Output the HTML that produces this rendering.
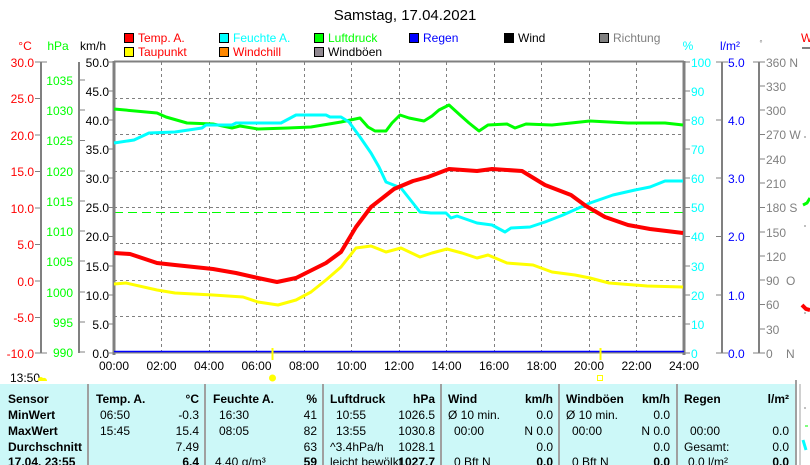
<!DOCTYPE html>
<html><head><meta charset="utf-8"><style>
body{margin:0;background:#fff;width:810px;height:465px;overflow:hidden}
svg{display:block;font-family:"Liberation Sans",sans-serif;font-size:12px}
.b{font-weight:bold}
</style></head><body>
<svg width="810" height="465" viewBox="0 0 810 465">
<text x="405" y="20" font-size="15" text-anchor="middle">Samstag, 17.04.2021</text>
<g font-size="12">
<rect x="124.5" y="33.5" width="9" height="9" fill="#f00" stroke="#000"/><text x="138" y="42" fill="#f00">Temp. A.</text>
<rect x="124.5" y="47.5" width="9" height="9" fill="#ff0" stroke="#000"/><text x="138" y="56" fill="#f00">Taupunkt</text>
<rect x="219.5" y="33.5" width="9" height="9" fill="#0ff" stroke="#000"/><text x="233" y="42" fill="#0ff">Feuchte A.</text>
<rect x="219.5" y="47.5" width="9" height="9" fill="#f80" stroke="#000"/><text x="233" y="56" fill="#f00">Windchill</text>
<rect x="314.5" y="33.5" width="9" height="9" fill="#0f0" stroke="#000"/><text x="328" y="42" fill="#0f0">Luftdruck</text>
<rect x="314.5" y="47.5" width="9" height="9" fill="#908890" stroke="#000"/><text x="328" y="56">Windböen</text>
<rect x="409.5" y="33.5" width="9" height="9" fill="#00f" stroke="#000"/><text x="423" y="42" fill="#00f">Regen</text>
<rect x="504.5" y="33.5" width="9" height="9" fill="#000" stroke="#000"/><text x="518" y="42">Wind</text>
<rect x="599.5" y="33.5" width="9" height="9" fill="#808080" stroke="#000"/><text x="613" y="42" fill="#808080">Richtung</text>
</g>
<text x="25" y="50" fill="#f00" text-anchor="middle">°C</text>
<text x="58" y="50" fill="#0f0" text-anchor="middle">hPa</text>
<text x="93" y="50" text-anchor="middle">km/h</text>
<text x="688" y="50" fill="#0ff" text-anchor="middle">%</text>
<text x="730" y="50" fill="#00f" text-anchor="middle">l/m²</text>
<text x="761" y="46" fill="#808080" text-anchor="middle" font-size="8">°</text>
<text x="801" y="42" fill="#f00">W</text>
<line x1="802" y1="48" x2="810" y2="48" stroke="#808080" stroke-width="2"/>
<g stroke="#808080" stroke-dasharray="3,3" stroke-width="1">
<line x1="114" y1="98.5" x2="684" y2="98.5"/><line x1="114" y1="134.5" x2="684" y2="134.5"/>
<line x1="114" y1="171.5" x2="684" y2="171.5"/><line x1="114" y1="207.5" x2="684" y2="207.5"/>
<line x1="114" y1="243.5" x2="684" y2="243.5"/><line x1="114" y1="280.5" x2="684" y2="280.5"/>
<line x1="114" y1="316.5" x2="684" y2="316.5"/>
<line x1="161.5" y1="62" x2="161.5" y2="353"/><line x1="209.5" y1="62" x2="209.5" y2="353"/>
<line x1="256.5" y1="62" x2="256.5" y2="353"/><line x1="304.5" y1="62" x2="304.5" y2="353"/>
<line x1="351.5" y1="62" x2="351.5" y2="353"/><line x1="399.5" y1="62" x2="399.5" y2="353"/>
<line x1="446.5" y1="62" x2="446.5" y2="353"/><line x1="494.5" y1="62" x2="494.5" y2="353"/>
<line x1="541.5" y1="62" x2="541.5" y2="353"/><line x1="589.5" y1="62" x2="589.5" y2="353"/>
<line x1="636.5" y1="62" x2="636.5" y2="353"/>
</g>
<line x1="114" y1="212.5" x2="684" y2="212.5" stroke="#0f0" stroke-dasharray="9,5"/>
<g stroke="#808080" stroke-width="3" fill="none">
<line x1="114" y1="61.5" x2="684" y2="61.5" stroke-width="2"/>
<line x1="114" y1="61" x2="114" y2="355"/>
<line x1="684" y1="61" x2="684" y2="355"/>
</g>
<line x1="114" y1="352.5" x2="684" y2="352.5" stroke="#808080" stroke-width="2"/>
<line x1="114" y1="351.5" x2="684" y2="351.5" stroke="#00f" stroke-width="1.5"/>
<g fill="none" stroke-linejoin="round">
<polyline stroke="#0f0" stroke-width="3" points="114,109 157,113 166,117 187,123 213,124 232,128 240,126 258,129 288,128 311,127 341,122 360,118 368,127 375,131 386,131 392,123 400,115 409,118 424,121 432,116 439,110 449,105 460,115 469,123 479,131 488,125 507,124 515,128 526,124 552,125 590,121 628,123 665,123 683,125"/>
<polyline stroke="#0ff" stroke-width="3" points="114,143 134,140 149,133 175,132 202,128 206,125 232,125 236,123 281,123 296,115 326,115 330,117 341,117 349,122 360,137 371,153 379,167 386,182 401,188 420,212 431,213 446,213 451,218 457,216 477,223 492,225 505,232 511,228 530,227 545,222 563,215 590,203 613,195 635,190 650,187 665,181 683,181"/>
<polyline stroke="#ff0" stroke-width="3" points="114,284 126,283 157,290 175,293 213,295 243,297 258,302 278,305 296,300 311,292 326,280 341,267 356,248 371,246 386,252 401,248 420,257 432,253 447,249 462,253 477,258 488,255 507,263 533,265 552,272 575,275 590,278 609,283 647,286 683,287"/>
<polyline stroke="#f00" stroke-width="4" points="114,253 130,254 157,263 175,265 213,269 236,273 258,278 277,282 296,278 326,263 341,252 356,227 371,207 394,189 413,181 428,177 449,169 477,171 492,169 522,171 545,185 571,195 586,206 605,217 628,225 650,229 683,233"/>
</g>
<g stroke="#808080" stroke-width="2">
<line x1="41" y1="62" x2="41" y2="353"/><line x1="79" y1="62" x2="79" y2="353"/>
<line x1="722" y1="62" x2="722" y2="353"/><line x1="759" y1="62" x2="759" y2="353"/>
</g>
<g stroke="#808080" stroke-width="1">
<path d="M35 62H47M35 98.5H41M35 135H41M35 171.5H41M35 208H41M35 244.5H41M35 281H41M35 317.5H41M35 353H47"/>
<path d="M79 80H85M79 110H85M79 140.5H85M79 171H85M79 201H85M79 231H85M79 261H85M79 292H85M79 322H85M79 352H85"/>
<path d="M109 62H114M109 91H114M109 120H114M109 149H114M109 178H114M109 207.5H114M109 236.5H114M109 266H114M109 295H114M109 324H114M109 353H114"/>
<path d="M684 62H690M684 91H690M684 120H690M684 149H690M684 178H690M684 207.5H690M684 236.5H690M684 266H690M684 295H690M684 324H690M684 353H690"/>
<path d="M716 62H728M716 120H722M716 178H722M716 236.5H722M716 295H722M716 353H728"/>
<path d="M753 62H765M759 86H765M759 110H765M759 134.5H765M759 159H765M759 183H765M759 207.5H765M759 232H765M759 256H765M759 280H765M759 304.5H765M759 329H765M753 353H765"/>
</g>
<g fill="#f00" text-anchor="end">
<text x="34" y="67">30.0</text><text x="34" y="103">25.0</text><text x="34" y="140">20.0</text><text x="34" y="176">15.0</text><text x="34" y="213">10.0</text><text x="34" y="249">5.0</text><text x="34" y="286">0.0</text><text x="34" y="322">-5.0</text><text x="34" y="358">-10.0</text>
</g>
<g fill="#0f0" text-anchor="end">
<text x="73" y="85">1035</text><text x="73" y="115">1030</text><text x="73" y="145">1025</text><text x="73" y="176">1020</text><text x="73" y="206">1015</text><text x="73" y="236">1010</text><text x="73" y="266">1005</text><text x="73" y="297">1000</text><text x="73" y="327">995</text><text x="73" y="357">990</text>
</g>
<g fill="#000" text-anchor="end">
<text x="109" y="67">50.0</text><text x="109" y="96">45.0</text><text x="109" y="125">40.0</text><text x="109" y="154">35.0</text><text x="109" y="183">30.0</text><text x="109" y="212">25.0</text><text x="109" y="241">20.0</text><text x="109" y="271">15.0</text><text x="109" y="300">10.0</text><text x="109" y="329">5.0</text><text x="109" y="358">0.0</text>
</g>
<g fill="#0ff">
<text x="691" y="67">100</text><text x="691" y="96">90</text><text x="691" y="125">80</text><text x="691" y="154">70</text><text x="691" y="183">60</text><text x="691" y="212">50</text><text x="691" y="241">40</text><text x="691" y="271">30</text><text x="691" y="300">20</text><text x="691" y="329">10</text><text x="691" y="358">0</text>
</g>
<g fill="#00f">
<text x="728" y="67">5.0</text><text x="728" y="125">4.0</text><text x="728" y="183">3.0</text><text x="728" y="241">2.0</text><text x="728" y="300">1.0</text><text x="728" y="358">0.0</text>
</g>
<g fill="#808080">
<text x="766" y="67">360 N</text><text x="766" y="91">330</text><text x="766" y="115">300</text><text x="766" y="139">270 W</text><text x="766" y="164">240</text><text x="766" y="188">210</text><text x="766" y="212">180 S</text><text x="766" y="237">150</text><text x="766" y="261">120</text><text x="766" y="285">90&#160;&#160;O</text><text x="766" y="309">60</text><text x="766" y="334">30</text><text x="766" y="358">0&#160;&#160;&#160;&#160;N</text>
</g>
<path d="M803 205l4-2 3-5" stroke="#0f0" stroke-width="3" fill="none"/>
<path d="M802 305l4 4 4 1" stroke="#f00" stroke-width="4" fill="none"/>
<path d="M804 137h2M804 226h2M804 313h2M804 408h2" stroke="#808080"/>
<path d="M805 426h3" stroke="#0f0"/>
<g text-anchor="middle">
<text x="114" y="370">00:00</text><text x="161.5" y="370">02:00</text><text x="209" y="370">04:00</text><text x="256.5" y="370">06:00</text><text x="304" y="370">08:00</text><text x="351.5" y="370">10:00</text><text x="399" y="370">12:00</text><text x="446.5" y="370">14:00</text><text x="494" y="370">16:00</text><text x="541.5" y="370">18:00</text><text x="589" y="370">20:00</text><text x="636.5" y="370">22:00</text><text x="684" y="370">24:00</text>
</g>
<line x1="272.5" y1="348" x2="272.5" y2="360" stroke="#ff0" stroke-width="2"/>
<line x1="600.5" y1="348" x2="600.5" y2="360" stroke="#ff0" stroke-width="2"/>
<circle cx="272.5" cy="378" r="3.5" fill="#ff0"/>
<rect x="597.5" y="375.5" width="5" height="5" fill="none" stroke="#ff0"/>
<text x="10" y="382">13:50</text>
<path d="M38 381a3 3 0 0 1 5-3a3 3 0 0 1 4 3z" fill="#ff0"/>
<rect x="0" y="384" width="796" height="81" fill="#ccf8f8"/>
<g stroke="#a0a0a0" stroke-width="2">
<line x1="88" y1="384" x2="88" y2="465"/><line x1="205" y1="384" x2="205" y2="465"/><line x1="323" y1="384" x2="323" y2="465"/><line x1="441" y1="384" x2="441" y2="465"/><line x1="559" y1="384" x2="559" y2="465"/><line x1="677" y1="384" x2="677" y2="465"/><line x1="796" y1="380" x2="796" y2="465"/>
</g>
<line x1="800" y1="384" x2="800" y2="465" stroke="#a0a0a0"/>
<path d="M803 440l3 10" stroke="#0ff" stroke-width="3"/>
<g font-size="12">
<text x="8" y="403" class="b">Sensor</text><text x="8" y="419" class="b">MinWert</text><text x="8" y="435" class="b">MaxWert</text><text x="8" y="451" class="b">Durchschnitt</text><text x="8" y="466" class="b">17.04. 23:55</text>
<text x="96" y="403" class="b">Temp. A.</text><text x="199" y="403" class="b" text-anchor="end">°C</text>
<text x="100" y="419">06:50</text><text x="199" y="419" text-anchor="end">-0.3</text>
<text x="100" y="435">15:45</text><text x="199" y="435" text-anchor="end">15.4</text>
<text x="199" y="451" text-anchor="end">7.49</text><text x="199" y="466" text-anchor="end" class="b">6.4</text>
<text x="213" y="403" class="b">Feuchte A.</text><text x="317" y="403" class="b" text-anchor="end">%</text>
<text x="219" y="419">16:30</text><text x="317" y="419" text-anchor="end">41</text>
<text x="219" y="435">08:05</text><text x="317" y="435" text-anchor="end">82</text>
<text x="317" y="451" text-anchor="end">63</text><text x="215" y="466">4.40 g/m³</text><text x="317" y="466" text-anchor="end" class="b">59</text>
<text x="330" y="403" class="b">Luftdruck</text><text x="435" y="403" class="b" text-anchor="end">hPa</text>
<text x="336" y="419">10:55</text><text x="435" y="419" text-anchor="end">1026.5</text>
<text x="336" y="435">13:55</text><text x="435" y="435" text-anchor="end">1030.8</text>
<text x="330" y="451">^3.4hPa/h</text><text x="435" y="451" text-anchor="end">1028.1</text>
<text x="330" y="466">leicht bewölkt</text><text x="435" y="466" text-anchor="end" class="b">1027.7</text>
<text x="448" y="403" class="b">Wind</text><text x="553" y="403" class="b" text-anchor="end">km/h</text>
<text x="448" y="419">Ø 10 min.</text><text x="553" y="419" text-anchor="end">0.0</text>
<text x="454" y="435">00:00</text><text x="553" y="435" text-anchor="end">N 0.0</text>
<text x="553" y="451" text-anchor="end">0.0</text><text x="454" y="466">0 Bft N</text><text x="553" y="466" text-anchor="end" class="b">0.0</text>
<text x="566" y="403" class="b">Windböen</text><text x="670" y="403" class="b" text-anchor="end">km/h</text>
<text x="566" y="419">Ø 10 min.</text><text x="670" y="419" text-anchor="end">0.0</text>
<text x="572" y="435">00:00</text><text x="670" y="435" text-anchor="end">N 0.0</text>
<text x="670" y="451" text-anchor="end">0.0</text><text x="572" y="466">0 Bft N</text><text x="670" y="466" text-anchor="end" class="b">0.0</text>
<text x="684" y="403" class="b">Regen</text><text x="789" y="403" class="b" text-anchor="end">l/m²</text>
<text x="690" y="435">00:00</text><text x="789" y="435" text-anchor="end">0.0</text>
<text x="684" y="451">Gesamt:</text><text x="789" y="451" text-anchor="end">0.0</text>
<text x="688" y="466">0.0 l/m²</text><text x="789" y="466" text-anchor="end" class="b">0.0</text>
</g>
</svg>
</body></html>
